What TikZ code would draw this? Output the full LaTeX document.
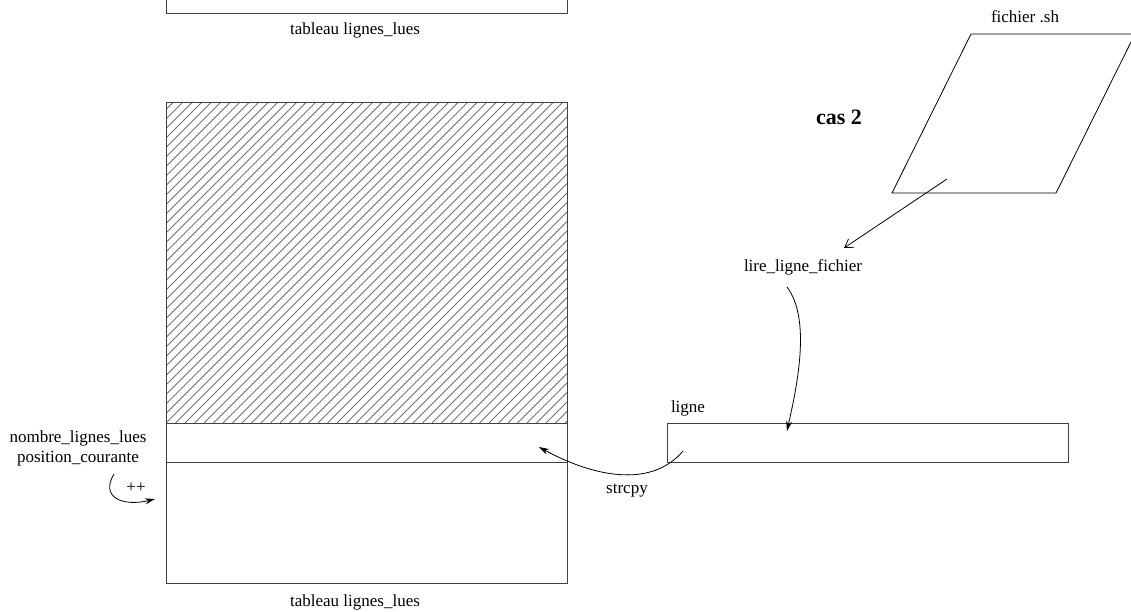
\documentclass[tikz,border=0pt]{standalone}
\usepackage{fontspec}
\setmainfont{Liberation Serif}
\usetikzlibrary{arrows.meta}
\tikzset{
  boxline/.style={draw=black!75, line width=0.9pt},
  lbl/.style={font=\fontsize{17}{20}\selectfont, inner sep=0pt},
  hatchline/.style={draw=black!55, line width=0.8pt},
  conn/.style={draw=black, line width=0.8pt, -{Stealth[length=10pt,width=6pt]}},
  openconn/.style={draw=black, line width=0.8pt, -{Straight Barb[length=8pt,width=10pt]}}
}
\begin{document}
\begin{tikzpicture}[x=1pt,y=-1pt]
\useasboundingbox (0,0) rectangle (1131,612);
% top (partially visible) table
\draw[boxline] (166,0) -- (166,13) -- (567,13) -- (567,0);
\node[lbl] (toplabel) at (355,30) {tableau lignes\_lues};
% main table with hatched part
\begin{scope}
  \clip (166,102) rectangle (567,423);
  \foreach \i in {-40,...,45} {
    \draw[hatchline] ({166+\i*9.5},423) -- ({166+\i*9.5+321},102);
  }
\end{scope}
\node[boxline, minimum width=401pt, minimum height=481pt, anchor=north west, inner sep=0pt] (tab) at (166,102) {};
\draw[boxline] (166,423) -- (567,423);
\draw[boxline] (166,462) -- (567,462);
\coordinate (rowtarget) at (539,447);
\node[lbl] (botlabel) at (355,602) {tableau lignes\_lues};
% left labels
\node[lbl, align=center] (nb) at (78,448) {nombre\_lignes\_lues\\position\_courante};
\node[lbl] (pp) at (136,488) {++};
\coordinate (ppstart) at (114,474);
\coordinate (ppend) at (155,499);
\draw[conn] (ppstart) .. controls (100,497) and (122,507) .. (ppend);
% ligne box
\node[boxline, minimum width=401pt, minimum height=39pt, anchor=north west, inner sep=0pt] (lignebox) at (667,423) {};
\node[lbl] (lignelbl) at (688,408) {ligne};
\coordinate (strstart) at (683,451);
\coordinate (lignetarget) at (787,431);
\draw[conn] (strstart) .. controls (650,490) and (590,475) .. (rowtarget);
\node[lbl] (strcpy) at (627,491) {strcpy};
% lire_ligne_fichier
\node[lbl] (lire) at (803,267) {lire\_ligne\_fichier};
\coordinate (lirestart) at (787,287);
\draw[conn] (lirestart) .. controls (812,320) and (796,390) .. (lignetarget);
% parallelogram file
\begin{scope}
  \clip (0,0) rectangle (1131,612);
  \draw[line width=0.8pt] (892,193) -- (971,34) -- (1135,34) -- (1056,193) -- cycle;
\end{scope}
\node[lbl] (fich) at (1025,17) {fichier .sh};
\node[font=\fontsize{22}{26}\selectfont\bfseries, inner sep=0pt] (cas) at (839,117) {cas 2};
\coordinate (fstart) at (947,179);
\coordinate (fend) at (844,248);
\draw[openconn] (fstart) -- (fend);
\end{tikzpicture}
\end{document}
